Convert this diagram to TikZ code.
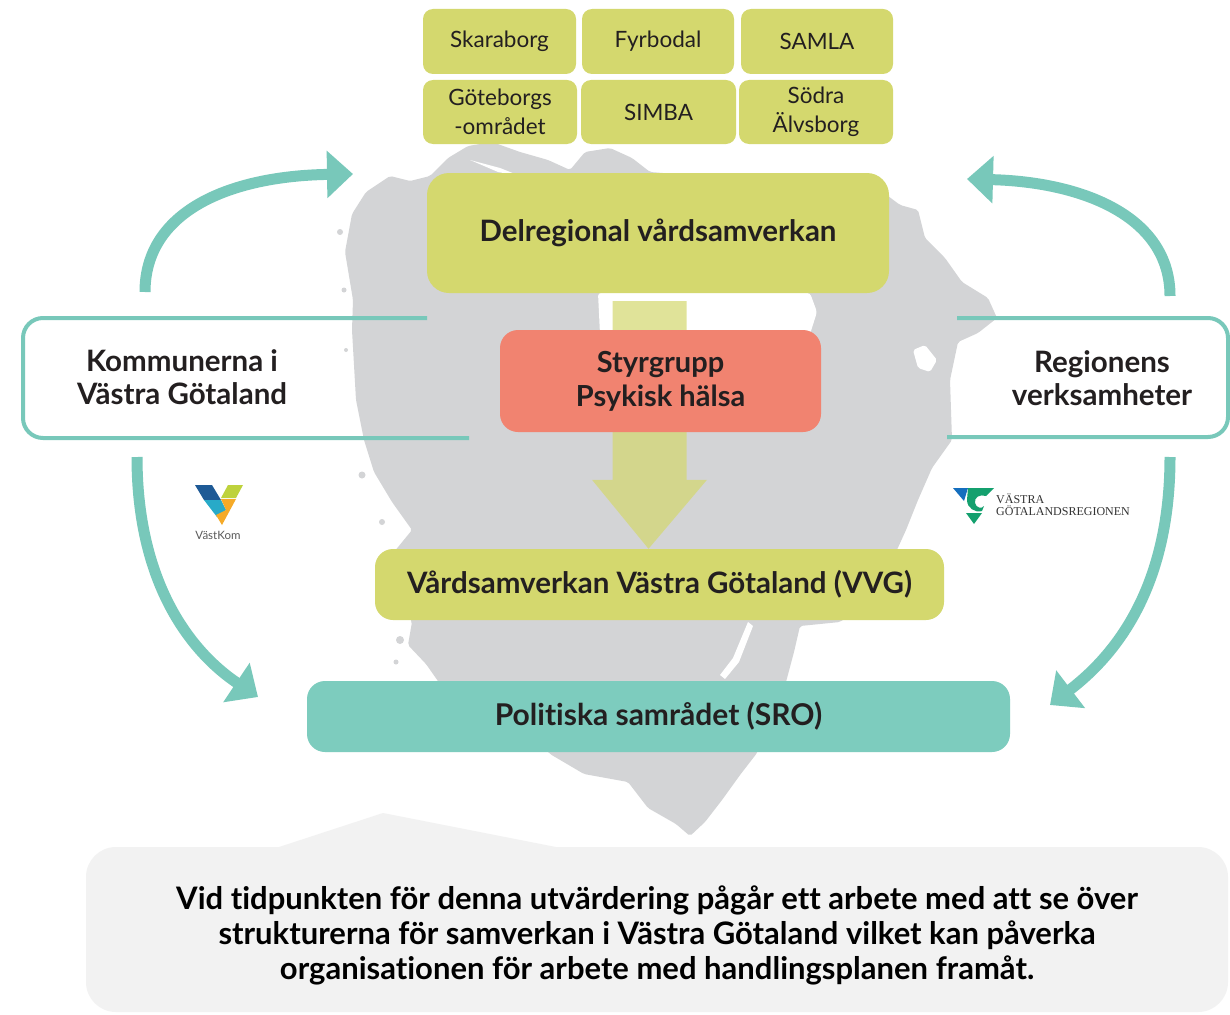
\documentclass[tikz,border=0pt]{standalone}
\usepackage{fontspec}
\setmainfont{Lato}[Ligatures=NoCommon]
\newfontfamily\vgrfont{Liberation Serif}
\usetikzlibrary{arrows.meta,calc}
\definecolor{ygreen}{RGB}{212,216,110}
\definecolor{salmon}{RGB}{241,131,112}
\definecolor{tealfill}{RGB}{125,204,190}
\definecolor{tealline}{RGB}{120,200,186}
\definecolor{mapgray}{RGB}{211,212,214}
\definecolor{calloutgray}{RGB}{242,242,242}
\definecolor{txtdark}{RGB}{35,31,32}
\definecolor{vkblue}{RGB}{30,90,150}
\definecolor{vkteal}{RGB}{40,170,200}
\definecolor{vkgreen}{RGB}{190,210,60}
\definecolor{vkorange}{RGB}{245,170,40}
\definecolor{vgrblue}{RGB}{20,110,190}
\definecolor{vgrgreen}{RGB}{20,160,110}
\begin{document}
\begin{tikzpicture}[x=1pt,y=-1pt,
  topbox/.style={fill=ygreen, rounded corners=10pt, inner sep=0pt, align=center, text=txtdark,
    font=\fontsize{22.5}{29}\selectfont},
  bigbox/.style={inner sep=0pt, align=center, text=txtdark, rounded corners=18pt,
    font=\bfseries\fontsize{29.5}{34}\selectfont},
  sidetext/.style={inner sep=0pt, align=center, text=txtdark, font=\bfseries\fontsize{29.5}{33}\selectfont},
  boxline/.style={draw=tealline, line width=4pt},
  curvearrow/.style={draw=tealline, line width=11pt, -{Triangle[width=46pt,length=26pt]}},
  bigarrow/.style={fill=ygreen, opacity=0.7}
]
\useasboundingbox (0,0) rectangle (1230,1014);
\fill[white] (0,0) rectangle (1230,1014);

% side box fills
\fill[white, rounded corners=20pt] (23,318) rectangle (480,438);
\fill[white, rounded corners=20pt] (940,318) rectangle (1228,437);

% map silhouette
\fill[mapgray, rounded corners=2pt] (430,176) -- (448,158) -- (468,146) -- (492,142) -- (520,152) -- (548,160) -- (570,170) -- (585,152) -- (610,148) -- (632,158) -- (650,172) -- (700,176) -- (880,190) -- (900,205) -- (918,210) -- (925,238) -- (945,258) -- (962,282) -- (988,298) -- (997,318) -- (978,333) -- (958,342) -- (950,380) -- (952,440) -- (932,468) -- (918,500) -- (906,530) -- (896,552) -- (870,600) -- (840,622) -- (800,626) -- (794,652) -- (786,682) -- (770,720) -- (757,753) -- (740,775) -- (722,800) -- (705,822) -- (690,836) -- (676,824) -- (648,808) -- (628,782) -- (584,774) -- (550,754) -- (520,720) -- (440,684) -- (426,664) -- (408,645) -- (412,622) -- (400,600) -- (394,552) -- (412,530) -- (392,502) -- (374,472) -- (364,440) -- (356,400) -- (352,330) -- (353,300) -- (345,252) -- (352,214) -- (366,192) -- (390,176) -- (410,181) -- cycle;
\foreach \p/\r in {{(340,232)/3},{(344,290)/2.5},{(346,350)/2},{(362,475)/3.5},{(382,522)/3},{(402,560)/2.5},{(400,640)/4},{(396,662)/2.5},{(414,690)/3}}
  \fill[mapgray] \p circle (\r);
% lakes
\fill[white, rounded corners=3pt] (598,293) -- (700,290) -- (810,293) -- (817,312) -- (810,334) -- (600,334) -- cycle;
\fill[white, rounded corners=2pt] (913,350) -- (925,345) -- (937,360) -- (930,372) -- (918,368) -- cycle;
\fill[white] (748,622) -- (753,626) -- (739,662) -- (725,679) -- (720,675) -- (733,658) -- cycle;
\fill[white] (470,160) -- (500,168) -- (520,176) -- (498,172) -- cycle;

% side box outlines
\draw[boxline, rounded corners=20pt] (427,318) -- (23,318) -- (23,438) -- (469,438);
\draw[boxline, rounded corners=20pt] (957,318) -- (1228,318) -- (1228,437) -- (947,437);

% side texts
\node[sidetext] (kom) at (182,377) {Kommunerna i\\Västra Götaland};
\node[sidetext] (reg) at (1102,378) {Regionens\\verksamheter};

% curved arrows
\coordinate (a1s) at (145,292); \coordinate (a1e) at (353,174);
\coordinate (a2s) at (137,457); \coordinate (a2e) at (258,697);
\coordinate (a3s) at (1170,296); \coordinate (a3e) at (967,179);
\coordinate (a4s) at (1170,457); \coordinate (a4e) at (1050,705);
\draw[curvearrow] (a1s) .. controls (145,212) and (228,176) .. (a1e);
\draw[curvearrow] (a2s) .. controls (137,580) and (188,650) .. (a2e);
\draw[curvearrow] (a3s) .. controls (1170,216) and (1082,182) .. (a3e);
\draw[curvearrow] (a4s) .. controls (1170,580) and (1122,650) .. (a4e);

% top boxes
\node[topbox, minimum width=153pt, minimum height=65pt] (skar) at (499.5,41.5) {Skaraborg};
\node[topbox, minimum width=152pt, minimum height=65pt] (fyr) at (658,41.5) {Fyrbodal};
\node[topbox, minimum width=152pt, minimum height=65pt] (samla) at (817,41.5) {SAMLA};
\node[topbox, minimum width=154pt, minimum height=64pt] (gbg) at (500,112) {Göteborgs\\-området};
\node[topbox, minimum width=155pt, minimum height=64pt] (simba) at (658.5,112) {SIMBA};
\node[topbox, minimum width=154pt, minimum height=64pt] (sodra) at (816,112) {Södra\\Älvsborg};

% main boxes
\node[bigbox, fill=ygreen, rounded corners=22pt, minimum width=462pt, minimum height=120pt] (delreg) at (658,233) {Delregional vårdsamverkan};
\node[bigbox, fill=ygreen, minimum width=569pt, minimum height=71pt] (vvg) at (659.5,584.5) {Vårdsamverkan Västra Götaland (VVG)};
\coordinate (ac) at (649.5,0);
\fill[bigarrow] ($(ac |- delreg.south)+(-37,8)$) -- ($(ac |- vvg.north)+(-37,-69)$) -- ($(ac |- vvg.north)+(-57.5,-69)$) -- ($(ac |- vvg.north)+(-1,0)$) -- ($(ac |- vvg.north)+(57.5,-69)$) -- ($(ac |- vvg.north)+(37,-69)$) -- ($(ac |- delreg.south)+(37,8)$) -- cycle;
\node[bigbox, fill=salmon, minimum width=321pt, minimum height=102pt, font=\bfseries\fontsize{29}{34}\selectfont] (styr) at (660.5,381) {Styrgrupp\\Psykisk hälsa};
\node[bigbox, fill=tealfill, minimum width=703pt, minimum height=71pt, font=\bfseries\fontsize{30}{30}\selectfont] (sro) at (658.5,716.5) {Politiska samrådet (SRO)};

% VastKom logo
\fill[vkblue] (195,485) -- (212,485) -- (221,500) -- (204,500) -- cycle;
\fill[vkteal] (204,500) -- (221,500) -- (226,510) -- (217,517) -- cycle;
\fill[vkgreen] (228,485) -- (243,485) -- (236,498) -- (221,498) -- cycle;
\fill[vkorange] (221,499) -- (236,499) -- (222,525) -- (216,515) -- (226,510) -- cycle;
\node[inner sep=0pt, text=black!65, font=\fontsize{11.5}{12}\selectfont] (vk) at (218,535) {VästKom};

% VGR logo
\fill[vgrblue] (953,488) -- (968,488) -- (964,501) -- cycle;
\fill[vgrgreen] (968,488) -- (994,488) -- (986,496) .. controls (980,494) and (974,497) .. (975,503) .. controls (976,508) and (982,509) .. (984,506) -- (982,511) .. controls (975,513) and (967,508) .. (967,500) -- cycle;
\fill[vgrgreen] (966,513) -- (982,513) -- (974,524) -- cycle;
\node[inner sep=0pt, anchor=west, text=black!80, font=\vgrfont\fontsize{12}{12}\selectfont, align=left] (vgr) at (996,505) {VÄSTRA\\GÖTALANDSREGIONEN};

% callout
\fill[calloutgray, rounded corners=30pt] (86,847) rectangle (1228,1012);
\fill[calloutgray] (276,848) -- (383,813) -- (561,848) -- cycle;
\node[inner sep=0pt, align=center, text=black, font=\bfseries\fontsize{31}{35}\selectfont] (note) at (657,935) {Vid tidpunkten för denna utvärdering pågår ett arbete med att se över\\strukturerna för samverkan i Västra Götaland vilket kan påverka\\organisationen för arbete med handlingsplanen framåt.};
\end{tikzpicture}
\end{document}
